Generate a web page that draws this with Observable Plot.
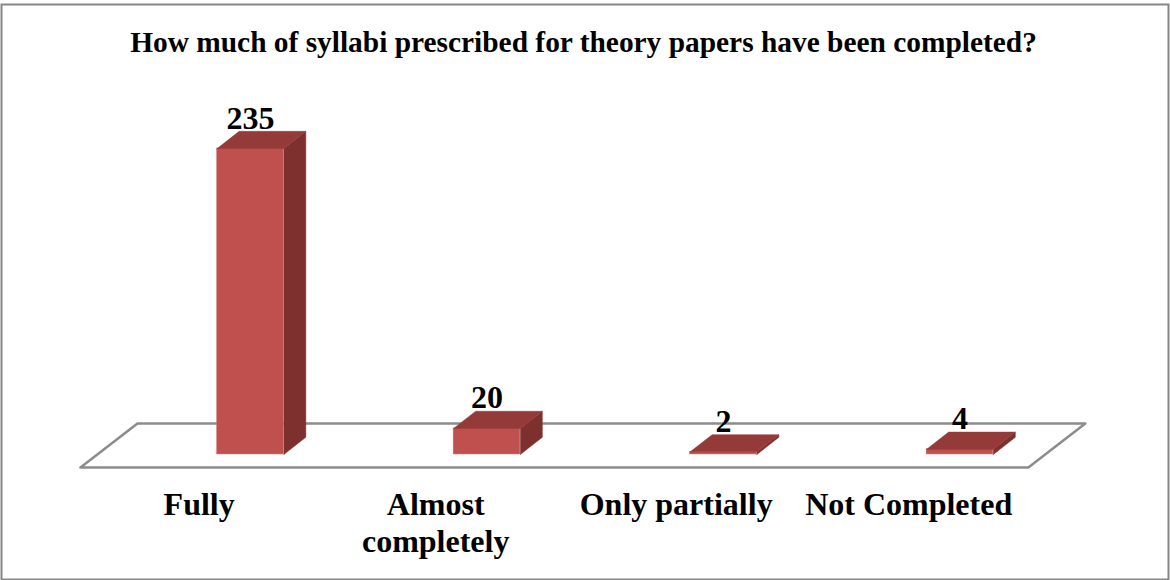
<!DOCTYPE html>
<html>
<head>
<meta charset="utf-8">
<script src="https://cdn.jsdelivr.net/npm/d3@7"></script>
<script src="https://cdn.jsdelivr.net/npm/@observablehq/plot@0.6"></script>
<style>
html,body{margin:0;padding:0;background:#fff;overflow:hidden}
svg{display:block}
</style>
</head>
<body>
<div id="chart"></div>
<script>
const titleText = "How much of syllabi prescribed for theory papers have been completed?";
const categories = ["Fully", "Almost\ncompletely", "Only partially", "Not Completed"];
const values = [235, 20, 2, 4];

const barHalf = 0.141, depthX = 0.093, depthY = 13.2;
const floorFront = [-0.719, 3.289], floorBack = [-0.478, 3.53], floorY = [-10, 23.8];
const bars = values.map((v, i) => ({i, v}));

const face = (name, pts) => pts.map(([x, y]) => ({face: name, x, y}));
const tops = [], sides = [];
bars.forEach(({i, v}) => {
  const l = i - barHalf, r = i + barHalf;
  tops.push(...face("t" + i, [[l, v], [r, v], [r + depthX, v + depthY], [l + depthX, v + depthY], [l, v]]));
  sides.push(...face("s" + i, [[r, 0], [r + depthX, depthY], [r + depthX, v + depthY], [r, v], [r, 0]]));
});
const floor = [
  {x: floorFront[0], y: floorY[0]}, {x: floorFront[1], y: floorY[0]},
  {x: floorBack[1], y: floorY[1]}, {x: floorBack[0], y: floorY[1]},
  {x: floorFront[0], y: floorY[0]}
];

const serif = "'Liberation Serif', 'Times New Roman', serif";
const labelRows = categories.map((c, i) => ({c, i}));
const labelStyle = {y: -26.3, text: "c", lineAnchor: "top", lineHeight: 1.15, fontSize: 32, fontWeight: "bold", fill: "#000", fontFamily: serif};

const plot = Plot.plot({
  width: 1170, height: 580,
  marginTop: 0, marginRight: 0, marginBottom: 0, marginLeft: 0,
  x: {domain: [-1.0571, 3.8901], range: [0, 1170], axis: null},
  y: {domain: [-96.8, 348.7], range: [580, 0], axis: null},
  style: {background: "#fff", fontFamily: serif},
  marks: [
    Plot.frame({stroke: "#868686", strokeWidth: 2, insetRight: 2, insetBottom: 1, insetLeft: 1, insetTop: 4}),
    Plot.line(floor, {x: "x", y: "y", stroke: "#8c8c8c", strokeWidth: 2.5}),
    Plot.line(sides, {x: "x", y: "y", z: "face", fill: "#7D302E", stroke: "#7D302E", strokeWidth: 0.5}),
    Plot.rectY(bars, {x1: d => d.i - barHalf, x2: d => d.i + barHalf, y1: 0, y2: "v", fill: "#C0504D", stroke: "#D0706C", strokeWidth: 0.5}),
    Plot.line(tops, {x: "x", y: "y", z: "face", fill: "#943B39", stroke: "#943B39", strokeWidth: 0.5}),
    Plot.text(bars, {x: "i", y: "v", text: d => String(d.v), dy: -20, lineAnchor: "bottom", fontSize: 32, fontWeight: "bold", fill: "#000", fontFamily: serif}),
    Plot.text(labelRows, {...labelStyle, filter: d => d.i !== 2, x: d => d.i - 0.217}),
    Plot.text(labelRows, {...labelStyle, filter: d => d.i === 2, x: d => d.i - 0.217, dx: 4}),
    Plot.text([titleText], {x: 1.408, y: 316, text: d => d, fontSize: 29.4, fontWeight: "bold", fill: "#000", fontFamily: serif})
  ]
});
document.getElementById("chart").append(plot);
</script>
</body>
</html>
